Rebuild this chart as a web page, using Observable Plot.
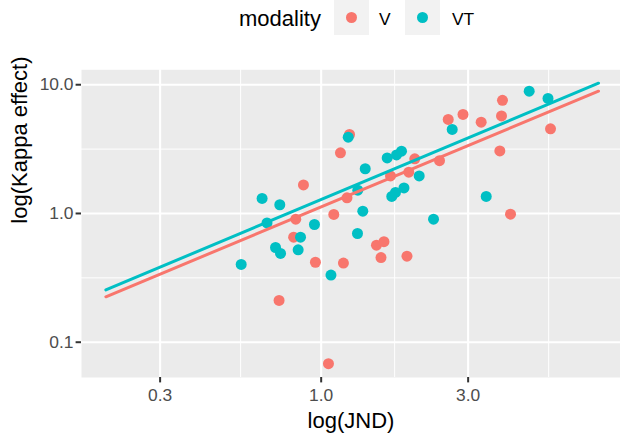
<!DOCTYPE html>
<html>
<head>
<meta charset="utf-8">
<script src="https://cdn.jsdelivr.net/npm/d3@7"></script>
<script src="https://cdn.jsdelivr.net/npm/@observablehq/plot@0.6"></script>
<style>
  html, body { margin: 0; padding: 0; background: #fff; }
  body { font-family: "Liberation Sans", Arial, Helvetica, sans-serif; }
  #wrap { position: relative; width: 620px; height: 433px; overflow: hidden; }
  #legend { position: relative; width: 620px; height: 46px; }
  #legend .t { position: absolute; white-space: nowrap; color: #000; }
  #legend .key { position: absolute; top: 0; width: 35px; height: 35px; background: #F2F2F2; }
  #legend .dot { position: absolute; left: 12px; top: 12px; width: 11px; height: 11px; border-radius: 50%; }
</style>
</head>
<body>
<div id="wrap">
  <div id="legend"></div>
  <div id="chart"></div>
</div>
<script>
// Groups and their colours
const modalities = ["V", "VT"];
const modalityColors = ["#F8766D", "#00BFC4"];

// Visual-only condition
const vJnd   = [1.236, 1.155, 0.876, 0.827, 0.814, 1.099, 1.213, 0.958, 1.181, 1.512, 1.599, 1.564, 0.730, 1.056,
                1.679, 3.878, 2.585, 2.887, 3.307, 3.850, 5.553, 3.802, 2.013, 2.422, 1.925, 4.118, 1.899];
const vKappa = [4.108, 2.961, 1.665, 0.903, 0.655, 0.982, 1.324, 0.418, 0.412, 0.567, 0.604, 0.454, 0.211, 0.0681,
                1.956, 7.57, 5.372, 5.873, 5.119, 5.718, 4.549, 3.058, 2.66, 2.571, 2.093, 0.988, 0.466];

// Visuo-tactile condition
const vtJnd   = [0.550, 0.643, 0.734, 0.667, 0.711, 0.738, 0.857, 0.842, 0.951, 1.076, 1.224, 1.390, 1.315, 1.365,
                 1.312, 1.638, 1.756, 1.823, 1.695, 1.743, 1.857, 2.081, 2.316, 2.663, 3.434, 4.735, 5.450];
const vtKappa = [0.402, 1.308, 1.169, 0.844, 0.544, 0.489, 0.655, 0.522, 0.821, 0.332, 3.913, 2.225, 1.517, 1.042,
                 0.699, 2.698, 2.847, 3.047, 1.355, 1.456, 1.578, 1.956, 0.903, 4.491, 1.355, 8.91, 7.82];

// Fitted log-log regression lines (end points)
const fitJnd = [0.2, 7.95];
const fitV   = [0.2254, 8.91];
const fitVT  = [0.255, 10.28];

// Axis breaks
const xTicks = [0.3, 1, 3];
const xMinor = [0.5477, 1.732, 5.477];
const yTicks = [0.1, 1, 10];
const yMinor = [0.3162, 3.162];

const points = [
  ...vJnd.map((j, i) => ({jnd: j, kappa: vKappa[i], modality: "V"})),
  ...vtJnd.map((j, i) => ({jnd: j, kappa: vtKappa[i], modality: "VT"}))
];
const fits = [
  ...fitJnd.map((j, i) => ({jnd: j, kappa: fitV[i], modality: "V"})),
  ...fitJnd.map((j, i) => ({jnd: j, kappa: fitVT[i], modality: "VT"}))
];

// Legend
const legend = document.getElementById("legend");
legend.innerHTML = `
  <div class="t" style="left:239px; top:8px; font-size:22px; line-height:22px;">modality</div>
  <div class="key" style="left:334px;"><div class="dot" style="background:${modalityColors[0]}"></div></div>
  <div class="t" style="left:379px; top:10.5px; font-size:17.4px; line-height:17.4px;">${modalities[0]}</div>
  <div class="key" style="left:405px;"><div class="dot" style="background:${modalityColors[1]}"></div></div>
  <div class="t" style="left:452px; top:10.5px; font-size:17.4px; line-height:17.4px;">${modalities[1]}</div>
`;

const fmt = d3.format(".1f");

const chart = Plot.plot({
  width: 620,
  height: 387,
  marginLeft: 81,
  marginRight: 0,
  marginTop: 23.3,
  marginBottom: 56,
  style: {fontFamily: '"Liberation Sans", Arial, Helvetica, sans-serif', background: "white", overflow: "visible"},
  x: {type: "log", domain: [0.1667, 9.37]},
  y: {type: "log", domain: [0.0532, 13.06]},
  color: {domain: modalities, range: modalityColors},
  marks: [
    Plot.frame({fill: "#EBEBEB", stroke: null}),
    Plot.gridX(xMinor, {stroke: "white", strokeOpacity: 1, strokeWidth: 1}),
    Plot.gridY(yMinor, {stroke: "white", strokeOpacity: 1, strokeWidth: 1}),
    Plot.gridX(xTicks, {stroke: "white", strokeOpacity: 1, strokeWidth: 2.1}),
    Plot.gridY(yTicks, {stroke: "white", strokeOpacity: 1, strokeWidth: 2.1}),
    Plot.axisX(xTicks, {tickFormat: fmt, tickSize: 5.4, tickPadding: 5.6, fontSize: 17.4,
                        fill: "#4D4D4D", stroke: "#333333", strokeWidth: 2, label: null}),
    Plot.axisY(yTicks, {tickFormat: fmt, tickSize: 5.4, tickPadding: 2.6, fontSize: 17.4,
                        fill: "#4D4D4D", stroke: "#333333", strokeWidth: 2, label: null}),
    Plot.dot(points, {x: "jnd", y: "kappa", fill: "modality", r: 5.5, stroke: null}),
    Plot.line(fits, {x: "jnd", y: "kappa", stroke: "modality", z: "modality", strokeWidth: 3}),
    Plot.text(["log(JND)"], {text: d => d, frameAnchor: "bottom", lineAnchor: "middle", dy: 43, fontSize: 22, fill: "black"}),
    Plot.text(["log(Kappa effect)"], {text: d => d, frameAnchor: "left", lineAnchor: "middle", dx: -62, rotate: -90, fontSize: 22, fill: "black"})
  ]
});
document.getElementById("chart").appendChild(chart);
</script>
</body>
</html>
